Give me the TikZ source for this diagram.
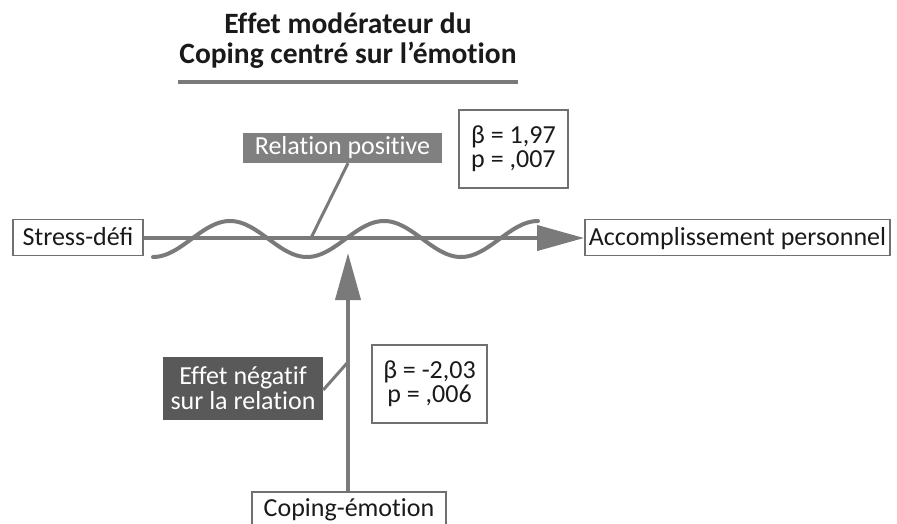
\documentclass[tikz,border=0pt]{standalone}
\usepackage{fontspec}
\setmainfont[Ligatures=NoCommon]{Carlito}
\usetikzlibrary{arrows.meta}
\definecolor{linegray}{HTML}{7A7A7A}
\definecolor{boxgray}{HTML}{707070}
\definecolor{relfill}{HTML}{808080}
\definecolor{efffill}{HTML}{595959}
\definecolor{txt}{HTML}{1A1A1A}
\tikzset{
  plainbox/.style={draw=boxgray, line width=1.8pt, fill=white, text=txt, inner sep=0pt,
    font=\fontsize{26}{26}\selectfont, text height=16.5pt, text depth=0pt},
  statbox/.style={draw=boxgray, line width=1.8pt, fill=white, text=txt, inner sep=0pt,
    font=\fontsize{26}{24}\selectfont},
  labelbox/.style={fill=#1, text=white, inner sep=0pt, align=center,
    font=\fontsize{26}{25}\selectfont},
  flow/.style={draw=linegray, line width=4pt, -{Triangle[length=47pt,width=25pt]}},
  leader/.style={draw=linegray, line width=3pt},
  wave/.style={draw=linegray, line width=4pt, line cap=round},
  titletext/.style={font=\fontsize{29.5}{30}\selectfont\bfseries, text=txt, inner sep=0pt, anchor=base}
}
\begin{document}
\begin{tikzpicture}[x=1pt,y=-1pt]
\useasboundingbox (0,0) rectangle (897,523);
\clip (0,0) rectangle (897,523);
% title
\node[titletext] (title1) at (348,33) {Effet modérateur du};
\node[titletext] (title2) at (348,63) {Coping centré sur l’émotion};
\draw[draw=linegray, line width=4pt] (178,82) -- (518,82);
% nodes
\node[plainbox, minimum width=130pt, minimum height=36pt] (stress) at (78,237.5) {Stress-déﬁ};
\node[plainbox, minimum width=305pt, minimum height=36pt] (accomp) at (737.5,237.5) {Accomplissement personnel};
\node[plainbox, minimum width=194pt, minimum height=40pt, text depth=8pt] (coping) at (349,512) {Coping-émotion};
\node[labelbox=relfill, minimum width=199pt, minimum height=30pt] (rel) at (342.5,148) {Relation positive};
\node[labelbox=efffill, minimum width=160pt, minimum height=63pt] (eff) at (243,388.5) {Effet négatif\\sur la relation};
\node[statbox, minimum width=109pt, minimum height=78pt, align=left] (beta1) at (513.5,149) {β = 1,97\\p = ,007};
\node[statbox, minimum width=115pt, minimum height=78pt, align=center] (beta2) at (429.5,384) {β = -2,03\\p = ,006};
% coordinates
\coordinate (vtip) at (348,253);
\coordinate (relfoot) at (311,238);
\coordinate (efffoot) at (348,362);
% wave
\draw[wave] plot[domain=153:538, samples=200] (\x, {239 - 18*sin((\x-153)/154*360 - 90)});
% connectors
\draw[flow] (stress.east |- 0,238) -- (accomp.west |- 0,238);
\draw[flow] (coping.north -| vtip) -- (vtip);
\draw[leader] ([xshift=5.5pt]rel.south) -- (relfoot);
\draw[leader] ([yshift=-1.5pt]eff.east) -- (efffoot);
\end{tikzpicture}
\end{document}
